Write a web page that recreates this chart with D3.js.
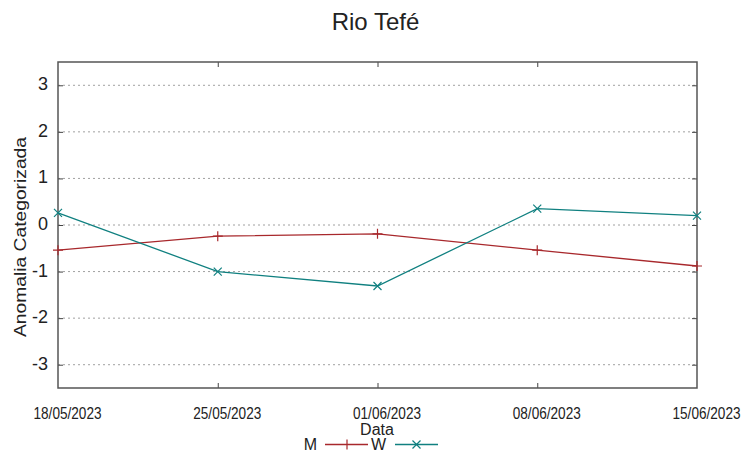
<!DOCTYPE html>
<html><head><meta charset="utf-8">
<script src="https://cdn.jsdelivr.net/npm/d3@7"></script>
<style>body{margin:0;background:#fff}svg{display:block;font-family:"Liberation Sans",Arial,sans-serif}</style>
</head><body><svg id="c" width="753" height="458"></svg>
<script>
const dates = ["18/05/2023","25/05/2023","01/06/2023","08/06/2023","15/06/2023"];
const seriesM = [-0.54,-0.24,-0.19,-0.54,-0.88];
const seriesW = [0.26,-1.0,-1.31,0.35,0.2];
const yTicks = [-3,-2,-1,0,1,2,3];
const title = "Rio Tefé";
const xTitle = "Data";
const yTitle = "Anomalia Categorizada";
const colM = "#a8282c", colW = "#108080";

const svg = d3.select("#c");
const L=58,R=697,T=62,B=388;
const x = d3.scalePoint().domain(dates).range([L,R]);
const y = d3.scaleLinear().domain([-3.5,3.5]).range([B,T]);

// grid
svg.append("g").selectAll("line").data(yTicks).join("line")
  .attr("x1",L).attr("x2",R).attr("y1",d=>y(d)).attr("y2",d=>y(d))
  .attr("stroke","#a0a0a0").attr("stroke-dasharray","2,3").attr("stroke-width",1);

// axes with inward ticks
const gl = svg.append("g").attr("transform",`translate(${L},0)`)
  .call(d3.axisLeft(y).tickValues(yTicks).tickSize(-5).tickFormat(d=>String(d)));
const gr = svg.append("g").attr("transform",`translate(${R},0)`)
  .call(d3.axisRight(y).tickValues(yTicks).tickSize(-5).tickFormat(""));
const gb = svg.append("g").attr("transform",`translate(0,${B})`)
  .call(d3.axisBottom(x).tickSize(-5));
const gt = svg.append("g").attr("transform",`translate(0,${T})`)
  .call(d3.axisTop(x).tickSize(-5).tickFormat(""));
[gl,gr,gb,gt].forEach(g=>{g.select(".domain").remove();g.selectAll("line").attr("stroke","#444");});
gl.selectAll("text").attr("font-size",18).attr("fill","#222").attr("font-family","Liberation Sans, Arial")
  .attr("x",-10).attr("dy",null).attr("y",4.5).attr("dominant-baseline","auto");
gb.selectAll("text").attr("font-size",17).attr("fill","#222").attr("font-family","Liberation Sans, Arial")
  .attr("dy",null).attr("y",31).attr("x",9)
  .attr("textLength",68).attr("lengthAdjust","spacingAndGlyphs");
gb.selectAll(".tick line").filter((d,i)=>i===0||i===dates.length-1).remove();
gt.selectAll(".tick line").filter((d,i)=>i===0||i===dates.length-1).remove();

svg.append("rect").attr("x",L).attr("y",T).attr("width",R-L).attr("height",B-T)
  .attr("fill","none").attr("stroke","#555").attr("stroke-width",1.5);

const line = d3.line().x((d,i)=>x(dates[i])).y(d=>y(d));
svg.append("path").datum(seriesM).attr("d",line).attr("fill","none").attr("stroke",colM).attr("stroke-width",1.3);
svg.append("path").datum(seriesW).attr("d",line).attr("fill","none").attr("stroke",colW).attr("stroke-width",1.3);

const plus=(g,cx,cy,c)=>{g.append("path").attr("d",`M${cx-5},${cy}H${cx+5}M${cx},${cy-5}V${cy+5}`).attr("stroke",c).attr("stroke-width",1.2);};
const cross=(g,cx,cy,c)=>{g.append("path").attr("d",`M${cx-4},${cy-4}L${cx+4},${cy+4}M${cx-4},${cy+4}L${cx+4},${cy-4}`).attr("stroke",c).attr("stroke-width",1.2);};
seriesM.forEach((v,i)=>plus(svg,x(dates[i]),y(v),colM));
seriesW.forEach((v,i)=>cross(svg,x(dates[i]),y(v),colW));

svg.append("text").attr("x",375.5).attr("y",30).attr("text-anchor","middle").attr("font-size",24).attr("fill","#222").text(title);
svg.append("text").attr("x",377).attr("y",435).attr("text-anchor","middle").attr("font-size",16).attr("fill","#222").text(xTitle);
svg.append("text").attr("transform","translate(26,237) rotate(-90)").attr("text-anchor","middle").attr("font-size",16)
  .attr("textLength",200).attr("lengthAdjust","spacingAndGlyphs").attr("fill","#222").text(yTitle);

// legend
const lg = svg.append("g");
lg.append("text").attr("x",317).attr("y",449.5).attr("text-anchor","end").attr("font-size",16).attr("fill","#222").text("M");
lg.append("line").attr("x1",325).attr("x2",368).attr("y1",444.5).attr("y2",444.5).attr("stroke",colM).attr("stroke-width",1.3);
plus(lg,347,444.5,colM);
lg.append("text").attr("x",386).attr("y",449.5).attr("text-anchor","end").attr("font-size",16).attr("fill","#222").text("W");
lg.append("line").attr("x1",395).attr("x2",438).attr("y1",444.5).attr("y2",444.5).attr("stroke",colW).attr("stroke-width",1.3);
cross(lg,416.5,444.5,colW);
</script></body></html>
